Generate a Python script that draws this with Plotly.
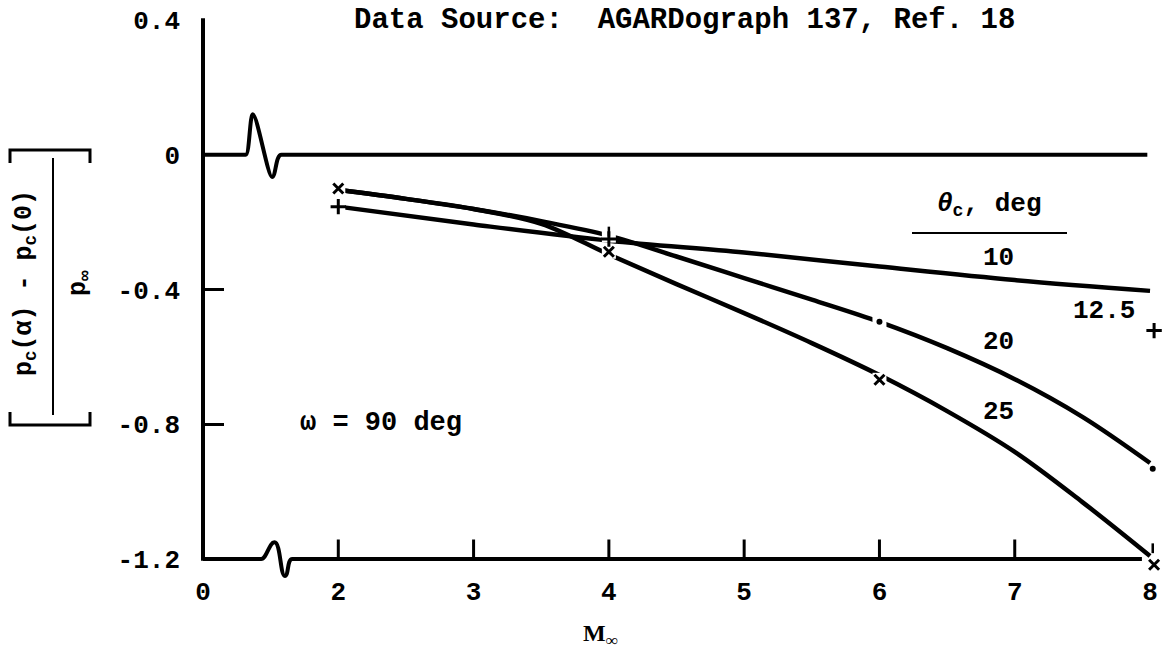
import plotly.graph_objects as go

# ---------------- data ----------------
mach_10 = [2, 3, 4, 5, 6, 7, 8]
theta_10 = [-0.154, -0.207, -0.255, -0.290, -0.332, -0.372, -0.404]
mach_20 = [2, 2.5, 3, 3.5, 4, 4.5, 5, 5.5, 6, 6.5, 7, 7.5, 8]
theta_20 = [-0.104, -0.131, -0.161, -0.197, -0.240, -0.302, -0.366, -0.430,
            -0.496, -0.574, -0.666, -0.778, -0.915]
mach_25 = [2, 2.5, 3, 3.5, 4, 4.5, 5, 5.5, 6, 6.5, 7, 7.5, 8]
theta_25 = [-0.104, -0.131, -0.161, -0.205, -0.296, -0.384, -0.470, -0.559,
            -0.654, -0.761, -0.882, -1.031, -1.191]

# plotted symbols
plus_m = [2, 4, 8.03]
plus_v = [-0.154, -0.250, -0.522]
cross_m = [2, 4, 6, 8.03]
cross_v = [-0.100, -0.288, -0.668, -1.217]
dot_m = [6, 8.02]
dot_v = [-0.496, -0.932]
tick_m = [4, 8.02]
tick_v = [-0.228, -1.168]

x_tickvals = [1, 2, 3, 4, 5, 6, 7, 8]
x_ticktext = ["0", "2", "3", "4", "5", "6", "7", "8"]
x_minor = [2, 3, 4, 5, 6, 7]
y_tickvals = [0.4, 0, -0.4, -0.8, -1.2]
y_ticktext = ["0.4", "0", "-0.4", "-0.8", "-1.2"]

# ---------------- layout geometry ----------------
W, H = 1171, 656
L, R, T, B = 203, 1163, 20, 573          # plot-area pixels
KX = 135.29                              # px per Mach unit
KY = 336.9                               # px per unit of ordinate
X0 = 1.0
Y1 = 0.4
XMAX = X0 + (R - L) / KX
YMIN = Y1 - (B - T) / KY
FONT = "Liberation Mono"


def px(x):
    return (x - L) / (R - L)


def py(y):
    return (B - y) / (B - T)


def dp(m, v):   # data -> "x,y" in paper units
    return f"{(m - X0) / (XMAX - X0):.5f},{(v - YMIN) / (Y1 - YMIN):.5f}"


fig = go.Figure()

line_style = dict(color="black", width=4.5)
for mm, vals in ((mach_10, theta_10), (mach_20, theta_20), (mach_25, theta_25)):
    fig.add_trace(go.Scatter(x=mm, y=vals, mode="lines",
                             line=dict(shape="spline", smoothing=1.0, **line_style),
                             cliponaxis=False, showlegend=False, hoverinfo="skip"))

# white gaps around the symbols drawn on the lines
gap_m = [2, 2, 4, 4, 6, 6]
gap_v = [-0.100, -0.154, -0.240, -0.288, -0.668, -0.496]
fig.add_trace(go.Scatter(x=gap_m, y=gap_v, mode="markers",
                         marker=dict(symbol="square", size=14, color="white",
                                     line=dict(width=0)),
                         cliponaxis=False, showlegend=False, hoverinfo="skip"))

fig.add_trace(go.Scatter(x=plus_m, y=plus_v, mode="markers",
                         marker=dict(symbol="cross-thin", size=11,
                                     line=dict(color="black", width=3)),
                         cliponaxis=False, showlegend=False, hoverinfo="skip"))
fig.add_trace(go.Scatter(x=cross_m, y=cross_v, mode="markers",
                         marker=dict(symbol="x-thin", size=10,
                                     line=dict(color="black", width=3)),
                         cliponaxis=False, showlegend=False, hoverinfo="skip"))
fig.add_trace(go.Scatter(x=dot_m, y=dot_v, mode="markers",
                         marker=dict(symbol="circle", size=6, color="black"),
                         cliponaxis=False, showlegend=False, hoverinfo="skip"))
fig.add_trace(go.Scatter(x=tick_m, y=tick_v, mode="markers",
                         marker=dict(symbol="line-ns", size=7,
                                     line=dict(color="black", width=2.5)),
                         cliponaxis=False, showlegend=False, hoverinfo="skip"))

# zero line and bottom axis, each with a break symbol
top_path = (f"M {dp(1, 0)} L {dp(1.315, 0)} C {dp(1.345, 0)} {dp(1.345, 0.12)} {dp(1.368, 0.12)} "
            f"C {dp(1.40, 0.12)} {dp(1.48, -0.066)} {dp(1.51, -0.066)} "
            f"C {dp(1.54, -0.066)} {dp(1.535, 0)} {dp(1.58, 0)} L {dp(7.98, 0)}")
bot_path = (f"M {dp(1, -1.2)} L {dp(1.43, -1.2)} C {dp(1.47, -1.2)} {dp(1.49, -1.15)} {dp(1.528, -1.15)} "
            f"C {dp(1.575, -1.15)} {dp(1.57, -1.25)} {dp(1.605, -1.25)} "
            f"C {dp(1.635, -1.25)} {dp(1.62, -1.2)} {dp(1.66, -1.2)} L {dp(7.94, -1.2)}")
for p in (top_path, bot_path):
    fig.add_shape(type="path", xref="paper", yref="paper", path=p,
                  line=dict(color="black", width=4))
# x ticks (inside, upward from the bottom axis)
for m in x_minor:
    fig.add_shape(type="line", xref="x", yref="y", x0=m, x1=m, y0=-1.2, y1=-1.2 + 0.058,
                  line=dict(color="black", width=3))
# y axis line from 0.4 down to -1.2
fig.add_shape(type="path", xref="paper", yref="paper",
              path=f"M {dp(1, 0.405)} L {dp(1, -1.205)}", line=dict(color="black", width=4))

# y-axis title: bracketed fraction
fig.add_shape(type="path", xref="paper", yref="paper",
              path=f"M {px(10)},{py(163)} L {px(10)},{py(150)} L {px(90)},{py(150)} L {px(90)},{py(163)}",
              line=dict(color="black", width=3))
fig.add_shape(type="path", xref="paper", yref="paper",
              path=f"M {px(10)},{py(412)} L {px(10)},{py(425)} L {px(90)},{py(425)} L {px(90)},{py(412)}",
              line=dict(color="black", width=3))
fig.add_shape(type="line", xref="paper", yref="paper",
              x0=px(53), x1=px(53), y0=py(158), y1=py(415),
              line=dict(color="black", width=2))
# legend header underline
fig.add_shape(type="line", xref="paper", yref="paper",
              x0=px(912), x1=px(1067), y0=py(233), y1=py(233),
              line=dict(color="black", width=2))


def note(text, x, y, size=26, angle=0, family=FONT):
    fig.add_annotation(text=text, xref="paper", yref="paper", x=px(x), y=py(y),
                       showarrow=False, textangle=angle, xanchor="center", yanchor="middle",
                       font=dict(family=family, size=size, color="black", weight="bold"))


note("Data\u00a0Source:\u00a0\u00a0AGARDograph\u00a0137,\u00a0Ref.\u00a018", 684, 20, size=29)
note("p<sub>c</sub>(α)\u00a0-\u00a0p<sub>c</sub>(0)", 25, 283, size=25, angle=-90)
note("p<sub>∞</sub>", 79, 283, size=25, angle=-90)
note("<i>θ</i><sub>c</sub>,\u00a0deg", 989, 205, size=26)
note("10", 998, 258)
note("12.5", 1104, 311)
note("20", 998, 342)
note("25", 998, 412)
note("ω\u00a0=\u00a090\u00a0deg", 381, 423, size=27)
note("M<sub>∞</sub>", 600, 635, size=24, family="Liberation Serif")

tickfont = dict(family=FONT, size=26, color="black", weight="bold")
fig.update_xaxes(range=[X0, XMAX], tickmode="array", tickvals=x_tickvals, ticktext=x_ticktext,
                 ticks="", showline=False, showgrid=False, zeroline=False,
                 tickfont=tickfont, ticklabelstandoff=0)
fig.update_yaxes(range=[YMIN, Y1], tickmode="array", tickvals=y_tickvals, ticktext=y_ticktext,
                 ticks="inside", ticklen=21, tickwidth=3, tickcolor="black",
                 showline=False, showgrid=False, zeroline=False, tickfont=tickfont,
                 ticklabelstandoff=22)

fig.update_layout(width=W, height=H, margin=dict(l=L, r=W - R, t=T, b=H - B),
                  plot_bgcolor="white", paper_bgcolor="white", showlegend=False)

fig.write_html("out.html")
